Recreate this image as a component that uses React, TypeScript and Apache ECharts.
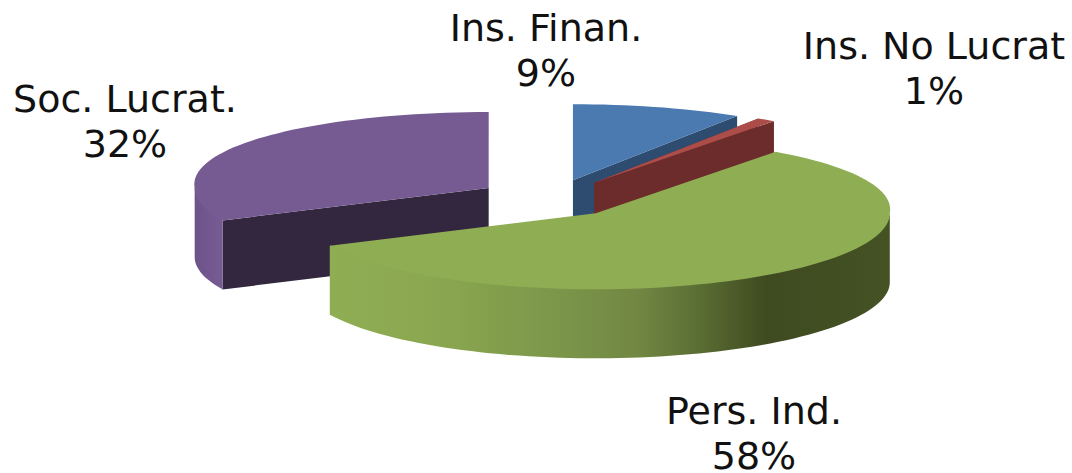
import React, { useEffect, useRef } from "react";
import * as echarts from "echarts";

const categories = ["Ins. Finan.", "Ins. No Lucrat", "Pers. Ind.", "Soc. Lucrat."];
const shares = [9, 1, 58, 32];

// Painter's order: back slices first
const drawOrder = [3, 0, 1, 2];

const topColors = ["#4A7AB0", "#AC4D4A", "#8FAD53", "#765B92"];
const wallColors = ["#2E4B70", "#6B2C2B", "#6E8640", "#33273F"];

const labelAnchors: [number, number][] = [
  [546, 50],
  [934, 68],
  [754, 433],
  [125, 121],
];

const sliceNudge: [number, number][] = [
  [0, 0],
  [0, 0],
  [-4, 1],
  [0, 0],
];

const CX = 552;
const CY = 198;
const RX = 294;
const RY = 76;
const DEPTH = 69;
const EXPLODE = 75;
const EXPLODE_Y = 0.247;
const BACK_FLARE = 0.05;

const total = shares.reduce((a, b) => a + b, 0);

function angleRange(i: number): [number, number] {
  let sum = 0;
  for (let k = 0; k < i; k++) sum += shares[k];
  return [(sum / total) * 360, ((sum + shares[i]) / total) * 360];
}

function rimPoint(ax: number, ay: number, deg: number): [number, number] {
  const t = (deg * Math.PI) / 180;
  const c = Math.cos(t);
  const flare = 1 + BACK_FLARE * Math.max(0, c);
  return [ax + RX * Math.sin(t) * flare, ay - RY * c];
}

function arc(ax: number, ay: number, from: number, to: number): [number, number][] {
  const steps = Math.max(2, Math.ceil(Math.abs(to - from) / 2));
  const out: [number, number][] = [];
  for (let s = 0; s <= steps; s++) out.push(rimPoint(ax, ay, from + ((to - from) * s) / steps));
  return out;
}

const down = (pts: [number, number][]): [number, number][] =>
  pts.map(([x, y]) => [x, y + DEPTH] as [number, number]);

function wallFill(i: number): any {
  if (i === 2) {
    return new echarts.graphic.LinearGradient(0, 0, 1, 0, [
      { offset: 0, color: "#8FAD53" },
      { offset: 0.18, color: "#8BA850" },
      { offset: 0.4, color: "#7C974A" },
      { offset: 0.55, color: "#718743" },
      { offset: 0.66, color: "#5A6E33" },
      { offset: 0.78, color: "#3F4A20" },
      { offset: 1, color: "#445224" },
    ]);
  }
  if (i === 3) {
    return new echarts.graphic.LinearGradient(0, 0, 1, 0, [
      { offset: 0, color: "#6C5389" },
      { offset: 1, color: "#775C94" },
    ]);
  }
  return wallColors[i];
}

function renderSlice(_params: any, api: any) {
  const i = api.value(1) as number;
  const [start, end] = angleRange(i);
  const mid = (((start + end) / 2) * Math.PI) / 180;
  const ax = CX + EXPLODE * Math.sin(mid) + sliceNudge[i][0];
  const ay = CY - EXPLODE * EXPLODE_Y * Math.cos(mid) + sliceNudge[i][1];
  const apex: [number, number] = [ax, ay];
  const children: any[] = [];
  const poly = (points: [number, number][], fill: any) =>
    children.push({ type: "polygon", shape: { points }, style: { fill, stroke: "none" } });

  // radial walls (the big front slice hides its own)
  if (i !== 2) {
    for (const ang of [start, end]) {
      const rim = rimPoint(ax, ay, ang);
      poly([apex, rim, [rim[0], rim[1] + DEPTH], [ax, ay + DEPTH]], wallColors[i]);
    }
  }
  // curved outer wall, front half only; its upper edge tucks under the top face
  const from = Math.max(start, 90);
  const to = Math.min(end, 270);
  if (to > from) {
    const top = arc(ax, ay, from, to);
    const tucked = top.map(
      ([x, y], k) => (k === 0 || k === top.length - 1 ? [x, y] : [x, y - 2]) as [number, number]
    );
    poly([...tucked, ...down(top).reverse()], wallFill(i));
  }
  // top face
  poly([apex, ...arc(ax, ay, start, end)], topColors[i]);
  // label
  const [lx, ly] = labelAnchors[i];
  children.push({
    type: "text",
    style: {
      text: `${categories[i]}\n${shares[i]}%`,
      x: lx,
      y: ly,
      align: "center",
      verticalAlign: "middle",
      fontSize: 38,
      lineHeight: 45,
      fontFamily: "DejaVu Sans",
      fill: "#111111",
    },
  });
  return { type: "group", children };
}

export default function App() {
  const ref = useRef<HTMLDivElement>(null);
  useEffect(() => {
    const chart = echarts.init(ref.current!, null, { renderer: "svg" });
    chart.setOption({
      animation: false,
      backgroundColor: "#ffffff",
      series: [
        {
          type: "custom",
          coordinateSystem: "none",
          renderItem: renderSlice,
          data: drawOrder.map((i) => [shares[i], i]),
        },
      ],
    });
    return () => chart.dispose();
  }, []);
  return (
    <div
      ref={ref}
      style={{ position: "absolute", left: 0, top: 0, width: 1072, height: 473, overflow: "hidden" }}
    />
  );
}
